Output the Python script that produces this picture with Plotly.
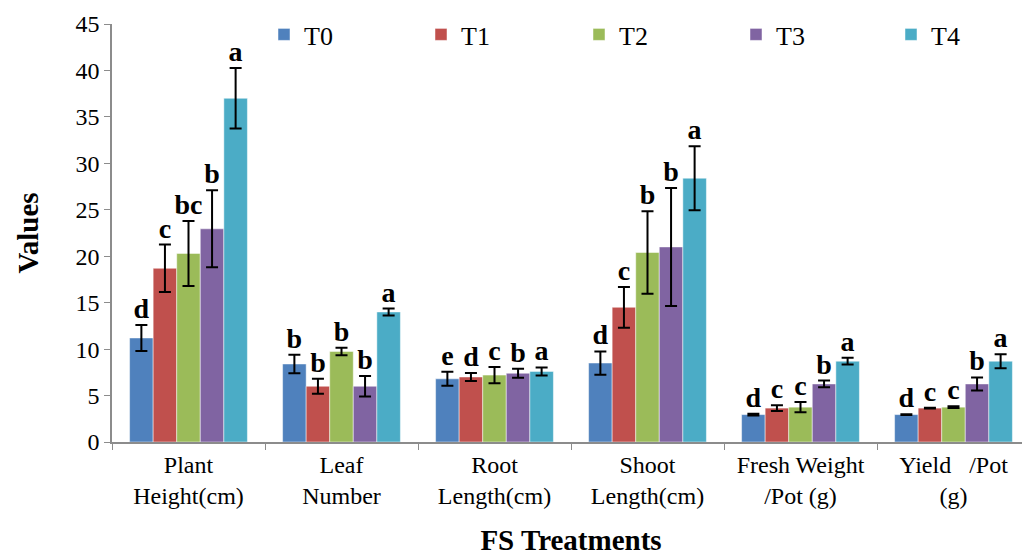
import plotly.graph_objects as go

categories = ["Plant<br>Height(cm)", "Leaf<br>Number", "Root<br>Length(cm)",
              "Shoot<br>Length(cm)", "Fresh Weight<br>/Pot (g)",
              "Yield\u00a0\u00a0\u00a0/Pot<br>(g)"]
series_names = ["T0", "T1", "T2", "T3", "T4"]
colors = ["#4F81BD", "#C0504D", "#9BBB59", "#8064A2", "#4BACC6"]

T0 = [11.2, 8.4, 6.8, 8.5, 2.95, 2.95]
T1 = [18.7, 6.0, 7.0, 14.5, 3.65, 3.65]
T2 = [20.3, 9.75, 7.2, 20.4, 3.75, 3.75]
T3 = [22.95, 6.0, 7.4, 21.0, 6.25, 6.25]
T4 = [37.0, 14.0, 7.6, 28.4, 8.7, 8.7]

T0_err = [1.4, 1.0, 0.75, 1.25, 0.1, 0.05]
T1_err = [2.55, 0.8, 0.42, 2.2, 0.3, 0.05]
T2_err = [3.5, 0.4, 0.88, 4.45, 0.55, 0.1]
T3_err = [4.15, 1.1, 0.48, 6.35, 0.36, 0.7]
T4_err = [3.25, 0.37, 0.43, 3.45, 0.37, 0.75]

T0_letters = ["d", "b", "e", "d", "d", "d"]
T1_letters = ["c", "b", "d", "c", "c", "c"]
T2_letters = ["bc", "b", "c", "b", "c", "c"]
T3_letters = ["b", "b", "b", "b", "b", "b"]
T4_letters = ["a", "a", "a", "a", "a", "a"]

values = [T0, T1, T2, T3, T4]
errors = [T0_err, T1_err, T2_err, T3_err, T4_err]
letters = [T0_letters, T1_letters, T2_letters, T3_letters, T4_letters]

# the page body adds an 8px offset; layout numbers below compensate for it
W, H = 1030, 556
legend_x = [256 / W, 413 / W, 571 / W, 728 / W, 883 / W]
legend_ids = ["legend", "legend2", "legend3", "legend4", "legend5"]

FONT = "Liberation Serif"

fig = go.Figure()
for i, name in enumerate(series_names):
    fig.add_trace(go.Bar(
        x=categories, y=values[i], name=name,
        marker=dict(color=colors[i], line=dict(color="rgba(255,255,255,0.6)", width=0.8)),
        error_y=dict(type="data", array=errors[i], visible=True,
                     color="black", thickness=2, width=6),
        offsetgroup=str(i), legend=legend_ids[i],
    ))
for i, name in enumerate(series_names):
    fig.add_trace(go.Scatter(
        x=categories, y=[v + e for v, e in zip(values[i], errors[i])],
        mode="text", text=letters[i], textposition="top center",
        textfont=dict(family=FONT, size=28, color="black", weight="bold"),
        offsetgroup=str(i), showlegend=False, hoverinfo="skip",
    ))

legend_common = dict(orientation="h", xref="container", yref="container",
                     y=1 - 26.5 / H, xanchor="left", yanchor="middle",
                     font=dict(family=FONT, size=26, color="black"),
                     bgcolor="rgba(0,0,0,0)", borderwidth=0)
legend_layout = {lid: dict(x=legend_x[i], **legend_common) for i, lid in enumerate(legend_ids)}

fig.update_layout(
    width=W, height=H,
    margin=dict(l=104, r=8, t=16, b=122, autoexpand=False),
    paper_bgcolor="white", plot_bgcolor="white",
    barmode="group", bargap=0.23, bargroupgap=0,
    scattermode="group", scattergap=0.23,
    font=dict(family=FONT, color="black"),
    showlegend=True,
    **legend_layout,
    xaxis=dict(
        automargin=False,
        showline=True, linecolor="#8c8c8c", linewidth=1.5,
        ticks="outside", tickson="boundaries", ticklen=6, tickcolor="#8c8c8c",
        tickfont=dict(family=FONT, size=24, color="black"),
        title=dict(text="<b>FS Treatments</b>", font=dict(family=FONT, size=29, color="black"),
                   standoff=22),
    ),
    yaxis=dict(
        automargin=False,
        range=[0, 45], dtick=5, showgrid=False, zeroline=False,
        showline=True, linecolor="#8c8c8c", linewidth=1.5,
        ticks="outside", ticklen=6, tickcolor="#8c8c8c",
        tickfont=dict(family=FONT, size=24, color="black"),
        title=dict(text="<b>Values</b>", font=dict(family=FONT, size=29, color="black"),
                   standoff=28),
    ),
)

fig.write_html("out.html")
